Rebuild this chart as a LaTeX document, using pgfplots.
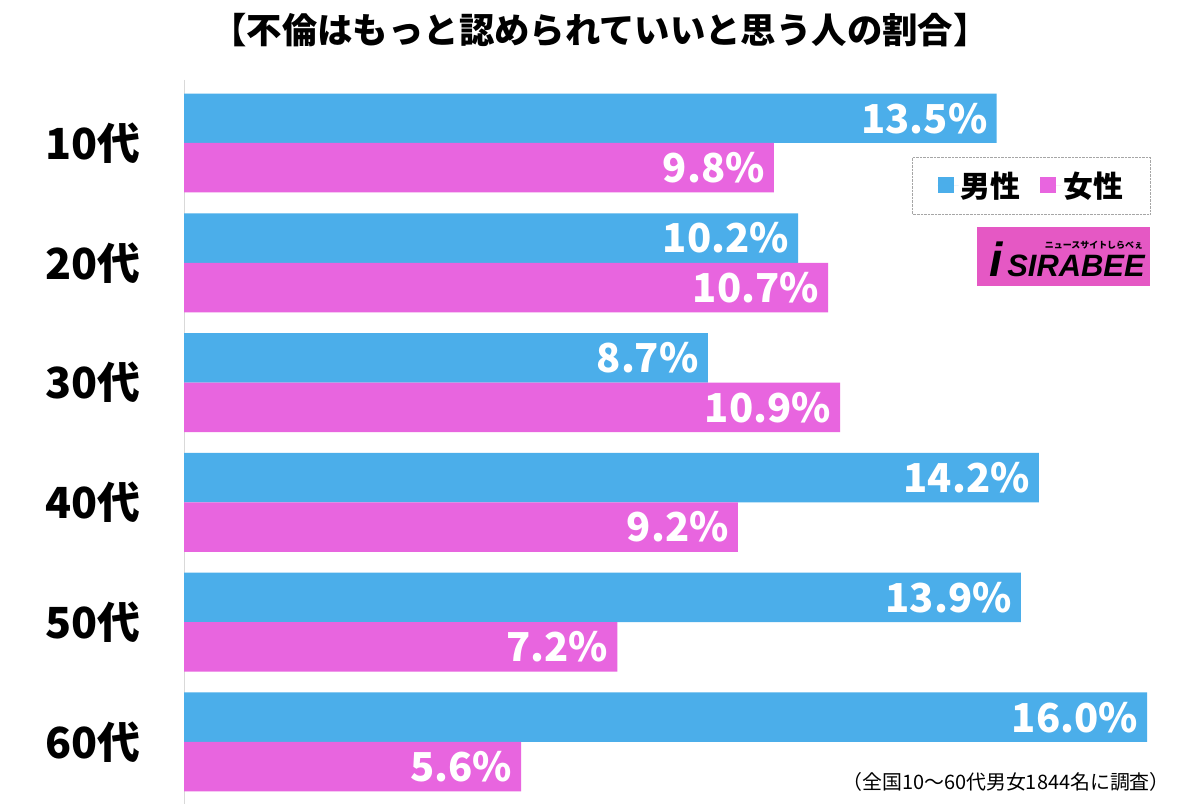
\documentclass[border=0pt]{standalone}
\usepackage{pgfplots}
\pgfplotsset{compat=1.18}
\usepackage{fontspec}
\setmainfont{Noto Sans CJK JP}
\newfontfamily\lat{Liberation Sans}
\definecolor{mblue}{RGB}{75,174,234}
\definecolor{fpink}{RGB}{232,101,223}
\definecolor{logopink}{RGB}{229,88,196}
\begin{document}
\begin{tikzpicture}[x=1bp,y=1bp]
\path[use as bounding box, fill=white] (0,0) rectangle (1200,804);
\begin{axis}[
  at={(184bp,0bp)}, anchor=south west,
  scale only axis, width=1016bp, height=724bp,
  xbar, xmin=0, xmax=16.877,
  ymin=-0.526, ymax=5.518, y dir=reverse,
  axis x line=none, axis y line=left,
  axis line style={draw=gray!30, line width=0.8bp, -},
  ytick={0,1,2,3,4,5},
  yticklabels={10代,20代,30代,40代,50代,60代},
  major tick length=0pt,
  yticklabel style={font=\bfseries\fontsize{43}{43}\selectfont, inner sep=0pt, xshift=-43bp},
  bar width=0.413,
  point meta=x,
  /pgf/number format/assume math mode=true,
  nodes near coords={\pgfmathprintnumber[fixed,fixed zerofill,precision=1,assume math mode=true]{\pgfplotspointmeta}\%},
  nodes near coords style={anchor=east, text=white, inner sep=0pt, xshift=-9bp,
    font=\bfseries\fontsize{40}{40}\selectfont},
  legend image code/.code={\fill (0bp,-8bp) rectangle (16bp,8bp); \path (0bp,0bp) -- (21bp,0bp);},
  legend columns=2,
  legend style={at={(0.951,0.894)}, anchor=north east, draw=gray!70, densely dotted,
    font=\bfseries\fontsize{30}{30}\selectfont, inner xsep=25bp, inner ysep=13bp,
    /tikz/every even column/.append style={column sep=18bp}},
  clip=false,
]
\addplot[fill=mblue, draw=none, bar shift=-0.2065] coordinates {(13.5,0) (10.2,1) (8.7,2) (14.2,3) (13.9,4) (16.0,5)};
\addplot[fill=fpink, draw=none, bar shift=0.2065] coordinates {(9.8,0) (10.7,1) (10.9,2) (9.2,3) (7.2,4) (5.6,5)};
\legend{男性,女性}
\end{axis}
\node[font=\bfseries\fontsize{35.5}{35.5}\selectfont] at (600,774) {【不倫はもっと認められていいと思う人の割合】};
\node[anchor=east, inner sep=0pt, font=\fontsize{20}{20}\selectfont] at (1170,22) {（全国10～60代男女1844名に調査）};
\fill[logopink] (977,518) rectangle (1150,577);
\node[font=\lat\bfseries\itshape\fontsize{31}{31}\selectfont, inner sep=0pt] at (1076,538) {SIRABEE};
\node[font=\lat\bfseries\itshape\fontsize{48}{48}\selectfont, inner sep=0pt] at (996,545) {i};
\node[font=\bfseries\fontsize{9}{9}\selectfont, inner sep=0pt] at (1094,559) {ニュースサイトしらべぇ};
\end{tikzpicture}
\end{document}
